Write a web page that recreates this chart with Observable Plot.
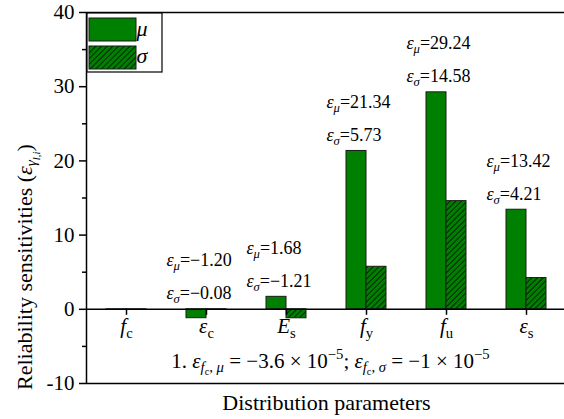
<!DOCTYPE html>
<html>
<head>
<meta charset="utf-8">
<script src="https://cdn.jsdelivr.net/npm/d3@7"></script>
<script src="https://cdn.jsdelivr.net/npm/@observablehq/plot@0.6"></script>
<style>
  html, body { margin: 0; padding: 0; background: #fff; overflow: hidden; }
  svg text { font-family: "Liberation Serif", "DejaVu Serif", serif; }
</style>
</head>
<body>
<div id="chart"></div>
<script>
// Distribution parameters and their reliability sensitivities
const categories = ["fc", "εc", "Es", "fy", "fu", "εs"];
// rich labels: $...$ = italic, _x or _{...} = subscript, ^{...} = superscript
const categoryLabels = ["$f$_c", "$ε$_c", "$E$_s", "$f$_y", "$f$_u", "$ε$_s"];
const meanSens = [-3.6e-5, -1.20, 1.68, 21.34, 29.24, 13.42];
const sdSens = [-1e-5, -0.08, -1.21, 5.73, 14.58, 4.21];
const seriesNames = ["μ", "σ"];
const yTicks = [-10, 0, 10, 20, 30, 40];
const yMinorTicks = [-5, 5, 15, 25, 35];
const yTitle = "Reliability sensitivities ($ε$_{$γ$_{$l$,$i$}})";
const xTitle = "Distribution parameters";

const GREEN = "#008000";
const EDGE = "#1a1a1a";
const FONT = "Liberation Serif";

const rows = categories.map((c, i) => ({
  cat: c, label: categoryLabels[i], mu: meanSens[i], sd: sdSens[i]
}));
// the tiny f_c values go into the footnote instead of bar labels
const labelledRows = rows.filter(d => Math.abs(d.mu) > 0.01);

const fmt2 = d3.format(".2f");
function sci(v) {
  const e = Math.floor(Math.log10(Math.abs(v)));
  const m = +(v / Math.pow(10, e)).toFixed(1);
  const ms = (m < 0 ? "−" : "") + String(Math.abs(m));
  return `${ms} × 10^{${e < 0 ? "−" : ""}${Math.abs(e)}}`;
}
const footnote = `1. $ε$_{$f$_c, $μ$} = ${sci(meanSens[0])}; $ε$_{$f$_c, $σ$} = ${sci(sdSens[0])}`;

const svg = Plot.plot({
  width: 564,
  height: 419,
  marginLeft: 86,
  marginRight: -2,
  marginTop: 12,
  marginBottom: 36,
  style: "font-family: 'Liberation Serif', serif; font-size: 20px; background: #fff; color: #000; overflow: visible;",
  x: { domain: categories, paddingInner: 0.5, paddingOuter: 0.25, axis: null },
  y: { domain: [-10, 40], axis: null, label: null },
  marks: [
    Plot.barY(rows, { x: "cat", y: "mu", insetRight: 20, fill: GREEN, stroke: EDGE, strokeWidth: 1 }),
    Plot.barY(rows, { x: "cat", y: "sd", insetLeft: 20, fill: "url(#hatch)", stroke: EDGE, strokeWidth: 1 }),
    Plot.ruleY([0], { stroke: "#000", strokeWidth: 1.5 }),
    Plot.frame({ stroke: "#000", strokeWidth: 1.5 }),
    // category ticks hang from the zero line
    Plot.ruleX(categories, { x: d => d, y1: 0, y2: 0, insetBottom: -6, stroke: "#000", strokeWidth: 1.5 }),
    Plot.axisY({ ticks: yTicks, tickSize: 7, tickPadding: 5, strokeWidth: 1.5, label: null,
      tickFormat: d => (d < 0 ? "-" + (-d) : String(d)), fontSize: 21, fontFamily: FONT, fill: "#000" }),
    Plot.axisY({ ticks: yMinorTicks, tickSize: 4, strokeWidth: 1.5, label: null, tickFormat: () => "" }),
    Plot.text(rows, { x: "cat", y: 0, dy: 24, lineAnchor: "bottom", text: "label", fontSize: 21, fontFamily: FONT, fill: "#000" }),
    Plot.text(labelledRows, { x: "cat", y: d => Math.max(0, d.mu), dx: -40, dy: -43, textAnchor: "start",
      lineAnchor: "bottom", text: d => `$ε$_{$μ$}=${fmt2(d.mu)}`, fontSize: 18, fontFamily: FONT, fill: "#000" }),
    Plot.text(labelledRows, { x: "cat", y: d => Math.max(0, d.mu), dx: -40, dy: -10, textAnchor: "start",
      lineAnchor: "bottom", text: d => `$ε$_{$σ$}=${fmt2(d.sd)}`, fontSize: 18, fontFamily: FONT, fill: "#000" }),
    Plot.text([footnote], { frameAnchor: "bottom", dx: 4, dy: -16, textAnchor: "middle", lineAnchor: "bottom",
      text: d => d, fontSize: 21, fontFamily: FONT, fill: "#000" }),
    Plot.text([xTitle], { frameAnchor: "bottom", dy: 26, textAnchor: "middle", lineAnchor: "bottom",
      text: d => d, fontSize: 22, fontFamily: FONT, fill: "#000" }),
    // rotated title runs upward from its start point
    Plot.text([yTitle], { frameAnchor: "left", dx: -62, dy: 192, rotate: -90, textAnchor: "start", lineAnchor: "middle",
      text: d => d, fontSize: 22, fontFamily: FONT, fill: "#000" })
  ]
});

// hatch fill for the σ bars
const root = d3.select(svg);
const defs = root.insert("defs", ":first-child");
const pat = defs.append("pattern").attr("id", "hatch").attr("patternUnits", "userSpaceOnUse")
  .attr("width", 4).attr("height", 4).attr("patternTransform", "rotate(45)");
pat.append("rect").attr("width", 4).attr("height", 4).attr("fill", GREEN);
pat.append("line").attr("x1", 0).attr("y1", 0).attr("x2", 0).attr("y2", 4)
  .attr("stroke", "#000").attr("stroke-width", 1.4);

// tiny markup → tspans (italic, subscript, superscript)
function parseRich(src, size, offset) {
  const runs = [];
  let italic = false, i = 0;
  const push = ch => {
    const last = runs[runs.length - 1];
    if (last && last.plain && last.italic === italic && last.size === size && last.offset === offset) last.text += ch;
    else runs.push({ text: ch, italic, size, offset, plain: true });
  };
  while (i < src.length) {
    const c = src[i];
    if (c === "$") { italic = !italic; i++; continue; }
    if (c === "_" || c === "^") {
      i++;
      let grp;
      if (src[i] === "{") {
        let depth = 1, j = i + 1;
        while (j < src.length && depth) { if (src[j] === "{") depth++; else if (src[j] === "}") depth--; j++; }
        grp = src.slice(i + 1, j - 1); i = j;
      } else { grp = src[i]; i++; }
      const sub = c === "_";
      const s2 = size * 0.7;
      const o2 = offset + (sub ? 0.22 * size : -0.42 * size);
      parseRich(grp, s2, o2).forEach(r => { r.plain = false; runs.push(r); });
      continue;
    }
    push(c); i++;
  }
  return runs;
}
document.getElementById("chart").appendChild(svg);
root.selectAll("text").each(function () {
  const t = this.textContent;
  if (!/[$_^]/.test(t)) return;
  const base = parseFloat(getComputedStyle(this).fontSize) || 20;
  const runs = parseRich(t, base, 0);
  this.textContent = "";
  let prev = 0;
  runs.forEach(r => {
    const ts = d3.select(this).append("tspan").text(r.text).attr("font-size", r.size);
    if (r.italic) ts.attr("font-style", "italic");
    if (r.offset !== prev) ts.attr("dy", r.offset - prev);
    prev = r.offset;
  });
});

// legend in the top-left corner of the frame
const lg = root.append("g").attr("font-family", FONT);
lg.append("rect").attr("x", 87).attr("y", 13).attr("width", 75).attr("height", 59)
  .attr("fill", "#fff").attr("stroke", "#000").attr("stroke-width", 1.2);
const fills = [GREEN, "url(#hatch)"];
seriesNames.forEach((name, k) => {
  lg.append("rect").attr("x", 89).attr("y", 18 + 28 * k).attr("width", 47).attr("height", 23)
    .attr("fill", fills[k]).attr("stroke", EDGE).attr("stroke-width", 1);
  lg.append("text").attr("x", 142).attr("y", 36 + 27 * k).attr("font-size", 22)
    .attr("font-style", "italic").text(name);
});
</script>
</body>
</html>
